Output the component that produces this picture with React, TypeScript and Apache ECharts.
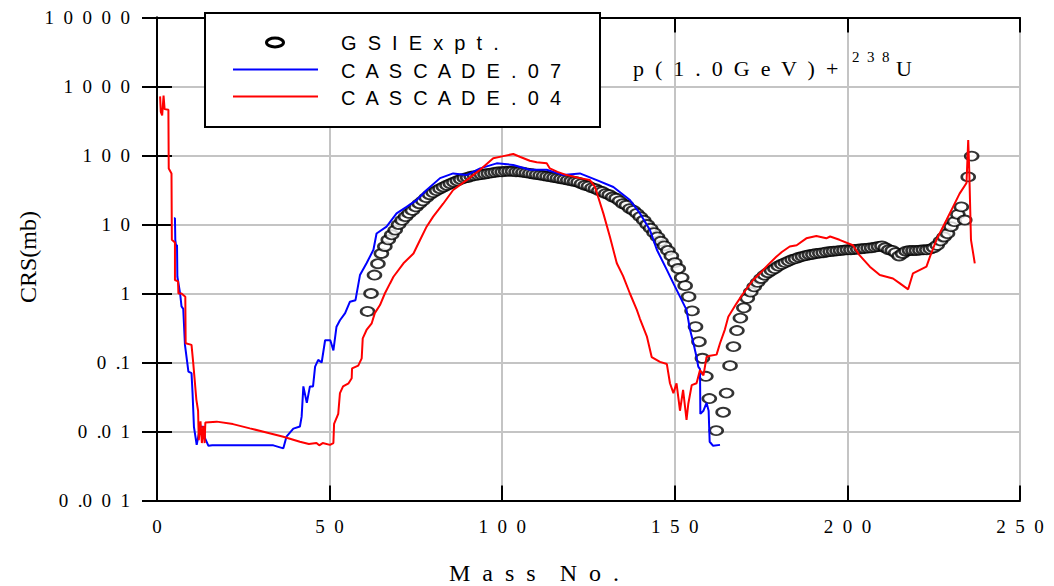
import React, { useEffect, useRef } from "react";
import * as echarts from "echarts";

// ---- tick labels ----
const xTicks = [0, 50, 100, 150, 200, 250];
const xTickLabels = ["0", "5  0", "1  0  0", "1  5  0", "2  0  0", "2  5  0"];
const yTickExps = [-3, -2, -1, 0, 1, 2, 3, 4];
const yTickLabels = ["0  .0  0  1", "0  .0  1", "0  .1", "1", "1  0", "1  0  0", "1  0  0  0", "1  0  0  0  0"];

// ---- series names ----
const seriesNames = ["G  S  I  E  x  p  t  .", "C  A  S  C  A  D  E  .  0  7", "C  A  S  C  A  D  E  .  0  4"];

// ---- GSI experimental data ----
const gsiMass = [
  61, 62, 63, 64, 65, 66, 67, 68, 69, 70, 71, 72, 73, 74, 75, 76, 77, 78, 79, 80,
  81, 82, 83, 84, 85, 86, 87, 88, 89, 90, 91, 92, 93, 94, 95, 96, 97, 98, 99, 100,
  101, 102, 103, 104, 105, 106, 107, 108, 109, 110, 111, 112, 113, 114, 115, 116, 117, 118, 119, 120,
  121, 122, 123, 124, 125, 126, 127, 128, 129, 130, 131, 132, 133, 134, 135, 136, 137, 138, 139, 140,
  141, 142, 143, 144, 145, 146, 147, 148, 149, 150, 151, 152, 153, 154, 155, 156, 157, 158, 159, 160,
  162, 164, 165, 166, 167, 168, 169, 170, 171, 172, 173, 174, 175, 176, 177, 178, 179, 180,
  181, 182, 183, 184, 185, 186, 187, 188, 189, 190, 191, 192, 193, 194, 195, 196, 197, 198, 199, 200,
  201, 202, 203, 204, 205, 206, 207, 208, 209, 210, 211, 212, 213, 214, 215, 216, 217, 218, 219, 220,
  221, 222, 223, 224, 225, 226, 227, 228, 229, 230, 231, 232, 233, 234, 235, 236,
];
const gsiCrs = [
  0.55, 1.0, 1.85, 2.7, 3.8, 4.8, 6.0, 7.1, 8.3, 10, 11.5, 13, 14.5, 16, 18, 20, 22, 24.5, 27, 29,
  31, 33, 35, 37, 39, 41, 43, 45, 47, 48, 50, 51, 52, 53, 54, 55, 56, 57, 58, 58,
  59, 59, 59, 58, 58, 57, 56, 55, 54, 53, 52, 51, 50, 49, 48, 47, 46, 45, 44, 43,
  42, 41, 39, 37, 36, 34, 33, 31, 30, 28, 27, 25, 24, 22, 20, 19, 17, 16, 14.5, 13,
  11.5, 10, 8.8, 7.6, 6.6, 5.7, 4.9, 4.2, 3.5, 2.8, 2.3, 1.7, 1.3, 0.9, 0.56, 0.33, 0.2, 0.115, 0.063, 0.03,
  0.0103, 0.019, 0.036, 0.09, 0.17, 0.29, 0.44, 0.62, 0.85, 1.05, 1.25, 1.45, 1.65, 1.85, 2.0, 2.15, 2.3, 2.5,
  2.65, 2.8, 2.95, 3.1, 3.2, 3.35, 3.45, 3.55, 3.65, 3.7, 3.8, 3.85, 3.9, 4.0, 4.05, 4.1, 4.15, 4.2, 4.25, 4.3,
  4.3, 4.35, 4.4, 4.45, 4.5, 4.55, 4.6, 4.7, 4.8, 4.9, 4.6, 4.3, 4.2, 3.9, 3.5, 3.8, 4.1, 4.2, 4.2, 4.2,
  4.25, 4.3, 4.3, 4.4, 4.6, 5.0, 5.8, 6.6, 7.4, 9.3, 11, 14, 18, 11.6, 49, 98,
];

// ---- CASCADE.07 (mass, crs) ----
const cascade07: [number, number][] = [
  [4.9, 12.3], [5.2, 12.3], [5.3, 6], [5.5, 5.0], [5.8, 5.0], [5.9, 1.75], [6.7, 1.0], [7.1, 0.65],
  [7.6, 0.6], [8.1, 0.18], [9.1, 0.074], [10, 0.07], [10.3, 0.036], [10.7, 0.0117], [11.5, 0.0064],
  [12.5, 0.0117], [13.5, 0.0117], [13.9, 0.008], [14.9, 0.0062], [16, 0.0063], [33.7, 0.0063],
  [36.6, 0.0057], [37.5, 0.0084], [39.5, 0.011], [41.4, 0.0118], [41.9, 0.0164], [42.4, 0.045],
  [43.4, 0.026], [44.3, 0.045], [45.2, 0.045], [45.8, 0.087], [46.7, 0.109], [47.7, 0.1], [48.7, 0.21],
  [50.2, 0.21], [51.1, 0.15], [52, 0.33], [53, 0.41], [54.5, 0.52], [55.9, 0.76], [57.5, 0.8],
  [58.8, 1.85], [60.7, 2.74], [62.7, 4.3], [63.6, 7.4], [66.5, 9.3], [69.4, 14.5], [72.3, 18],
  [75.2, 22.6], [78.1, 31.6], [82, 47], [85.8, 55], [89.7, 52], [93.6, 65], [98.4, 77], [103.2, 73],
  [108, 62], [112.9, 62], [117.7, 52], [122.5, 55], [127.4, 44], [132.2, 35], [137, 22.6], [139.9, 14.5],
  [142.8, 8.3], [144.8, 4.3], [147.7, 2.2], [149.6, 1.4], [151.5, 0.9], [153.4, 0.58], [154.4, 0.3],
  [155.4, 0.19], [156.3, 0.12], [156.8, 0.087], [157.3, 0.08], [157.4, 0.018], [158.3, 0.02],
  [159.2, 0.026], [159.8, 0.02], [160.1, 0.0071], [161.1, 0.0062], [163.1, 0.0064],
];

// ---- CASCADE.04 (mass, crs) ----
const cascade04: [number, number][] = [
  [0.9, 720], [1.1, 430], [1.5, 380], [1.9, 740], [2.2, 470], [3.3, 460], [3.4, 65], [4.2, 55],
  [4.3, 6], [5.2, 5.5], [5.2, 1.57], [6.1, 1.5], [6.2, 1.0], [7.1, 1.0], [8.2, 0.9], [8.3, 0.19],
  [10, 0.18], [10.5, 0.098], [11.4, 0.029], [11.9, 0.02], [12.1, 0.0075], [12.6, 0.014], [13.0, 0.0068],
  [13.4, 0.012], [13.8, 0.0068], [14.0, 0.0135], [17.3, 0.0139], [22, 0.0128], [26.9, 0.0111],
  [32, 0.0096], [36.6, 0.0084], [41.4, 0.0071], [44, 0.0066], [46.2, 0.0068], [47, 0.0063],
  [48, 0.0068], [50.1, 0.0064], [51.1, 0.0068], [51.3, 0.0129], [52.5, 0.018], [53, 0.036],
  [53.9, 0.045], [55.5, 0.05], [56.4, 0.059], [56.5, 0.082], [58.3, 0.09], [59.3, 0.115], [59.6, 0.224],
  [60.7, 0.296], [62.2, 0.37], [63.1, 0.52], [64.6, 0.68], [66, 1.0], [67.5, 1.4], [68.5, 1.75],
  [71.4, 2.74], [74.3, 3.8], [76.2, 5.96], [78.1, 9.3], [80, 13], [82.9, 20], [85.8, 31.6], [89.7, 44],
  [93.6, 62], [97.4, 91], [100.3, 98], [103.2, 105], [105.1, 96], [108, 84], [110, 80], [112.9, 77],
  [113.8, 65], [116, 58], [118.7, 52], [122.5, 47], [125.4, 44], [126.9, 35], [127.8, 25], [129.3, 14.5],
  [131.2, 6.65], [133.2, 2.74], [135, 1.8], [137, 1.0], [139, 0.58], [139.9, 0.43], [141.9, 0.24],
  [143.3, 0.12], [145.7, 0.102], [147.7, 0.095], [148.6, 0.05], [149.6, 0.036], [150.5, 0.05],
  [151.5, 0.02], [152.4, 0.04], [153.4, 0.0147], [153.9, 0.025], [154.9, 0.047], [156.3, 0.05],
  [157.3, 0.078], [158.3, 0.065], [159.2, 0.12], [160.2, 0.125], [162.1, 0.13], [163.1, 0.19],
  [164.5, 0.3], [165.5, 0.46], [167.9, 0.72], [169.8, 1.0], [172.7, 1.57], [174.7, 1.96], [177, 2.6],
  [179.4, 3.4], [181, 4], [183.3, 4.8], [185.3, 5.0], [188.1, 6.3], [191, 6.8], [193.9, 6.3], [195, 6.7],
  [197.7, 6.0], [201.6, 5.0], [203.5, 3.6], [206.5, 2.45], [209.4, 1.85], [213.2, 1.65], [215.2, 1.4],
  [217.6, 1.15], [219, 1.96], [222.9, 2.45], [223.9, 3.4], [225.8, 6.0], [228.7, 11.6], [230.6, 18],
  [232.5, 28], [234.5, 40], [235, 168], [235.3, 60], [235.8, 6.0], [236.9, 2.74],
];

const SERIF = "'Liberation Serif', 'Times New Roman', serif";
const SANS = "'Liberation Sans', Arial, sans-serif";

export default function App() {
  const ref = useRef<HTMLDivElement>(null);

  useEffect(() => {
    document.body.style.margin = "0";
    const chart = echarts.init(ref.current!, null, { renderer: "svg" });

    const tickStyle = { show: true, inside: true, length: 15, lineStyle: { color: "#000", width: 2 } };
    const axisLine = { show: true, lineStyle: { color: "#000", width: 2 } };

    const yLabel = (v: number) => {
      const e = Math.round(Math.log10(v));
      const i = yTickExps.indexOf(e);
      return i >= 0 ? yTickLabels[i] : "";
    };
    const xLabel = (v: number) => {
      const i = xTicks.indexOf(Math.round(v));
      return i >= 0 ? xTickLabels[i] : "";
    };

    const option: any = {
      animation: false,
      backgroundColor: "#fff",
      grid: { left: 157, top: 17.5, right: 34, bottom: 85.5, containLabel: false },
      xAxis: [
        {
          type: "value",
          min: 0,
          max: 250,
          interval: 50,
          position: "bottom",
          axisLine,
          axisTick: tickStyle,
          axisLabel: {
            formatter: xLabel,
            margin: 16,
            color: "#000",
            fontFamily: SERIF,
            fontSize: 19,
          },
          splitLine: { show: true, lineStyle: { color: "#c4c4c4", width: 2 } },
        },
        {
          type: "value",
          min: 0,
          max: 250,
          interval: 50,
          position: "top",
          axisLine,
          axisTick: tickStyle,
          axisLabel: { show: false },
          splitLine: { show: false },
        },
      ],
      yAxis: [
        {
          type: "log",
          logBase: 10,
          min: 0.001,
          max: 10000,
          interval: 1,
          splitNumber: 7,
          position: "left",
          axisLine,
          axisTick: tickStyle,
          minorTick: { show: false },
          axisLabel: {
            formatter: yLabel,
            margin: 27,
            color: "#000",
            fontFamily: SERIF,
            fontSize: 19,
          },
          splitLine: { show: true, lineStyle: { color: "#c4c4c4", width: 2 } },
        },
        {
          type: "log",
          logBase: 10,
          min: 0.001,
          max: 10000,
          interval: 1,
          splitNumber: 7,
          position: "right",
          axisLine,
          axisTick: tickStyle,
          axisLabel: { show: false },
          splitLine: { show: false },
        },
      ],
      series: [
        {
          name: seriesNames[0],
          type: "scatter",
          xAxisIndex: 0,
          yAxisIndex: 0,
          symbol: "circle",
          symbolSize: [13, 9],
          itemStyle: { color: "#fff", borderColor: "#000", borderWidth: 2.2 },
          data: gsiMass.map((m, i) => [m, gsiCrs[i]]),
          z: 2,
        },
        {
          name: seriesNames[1],
          type: "line",
          xAxisIndex: 0,
          yAxisIndex: 0,
          showSymbol: false,
          symbol: "none",
          lineStyle: { color: "#0000ff", width: 2 },
          data: cascade07,
          z: 3,
        },
        {
          name: seriesNames[2],
          type: "line",
          xAxisIndex: 0,
          yAxisIndex: 0,
          showSymbol: false,
          symbol: "none",
          lineStyle: { color: "#ff0000", width: 2 },
          data: cascade04,
          z: 4,
        },
      ],
      graphic: [
        {
          type: "rect",
          z: 100,
          shape: { x: 205, y: 13, width: 395, height: 114 },
          style: { fill: "#fff", stroke: "#000", lineWidth: 2 },
        },
        {
          type: "ellipse",
          z: 101,
          shape: { cx: 275, cy: 42.5, rx: 8.5, ry: 4.5 },
          style: { fill: "#fff", stroke: "#000", lineWidth: 3 },
        },
        {
          type: "line",
          z: 101,
          shape: { x1: 233, y1: 69.5, x2: 318, y2: 69.5 },
          style: { stroke: "#0000ff", lineWidth: 2 },
        },
        {
          type: "line",
          z: 101,
          shape: { x1: 233, y1: 96.5, x2: 318, y2: 96.5 },
          style: { stroke: "#ff0000", lineWidth: 2 },
        },
        {
          type: "text",
          z: 101,
          x: 341,
          y: 43,
          style: { text: seriesNames[0], font: `20px ${SANS}`, fill: "#000", verticalAlign: "middle", align: "left" },
        },
        {
          type: "text",
          z: 101,
          x: 341,
          y: 70.5,
          style: { text: seriesNames[1], font: `20px ${SANS}`, fill: "#000", verticalAlign: "middle", align: "left" },
        },
        {
          type: "text",
          z: 101,
          x: 341,
          y: 97.5,
          style: { text: seriesNames[2], font: `20px ${SANS}`, fill: "#000", verticalAlign: "middle", align: "left" },
        },
        {
          type: "text",
          z: 101,
          x: 633,
          y: 68,
          style: { text: "p  (  1  .  0  G  e  V  )  +", font: `22px ${SERIF}`, fill: "#000", verticalAlign: "middle", align: "left" },
        },
        {
          type: "text",
          z: 101,
          x: 852,
          y: 57,
          style: { text: "2  3  8", font: `15px ${SERIF}`, fill: "#000", verticalAlign: "middle", align: "left" },
        },
        {
          type: "text",
          z: 101,
          x: 896,
          y: 68,
          style: { text: "U", font: `22px ${SERIF}`, fill: "#000", verticalAlign: "middle", align: "left" },
        },
        {
          type: "text",
          z: 101,
          x: 28,
          y: 257,
          rotation: Math.PI / 2,
          style: { text: "CRS(mb)", font: `24px ${SERIF}`, fill: "#000", verticalAlign: "middle", align: "center" },
        },
        {
          type: "text",
          z: 101,
          x: 534,
          y: 573,
          style: { text: "M  a  s  s    N  o  .", font: `24px ${SERIF}`, fill: "#000", verticalAlign: "middle", align: "center" },
        },
      ],
    };

    chart.setOption(option);
    return () => chart.dispose();
  }, []);

  return <div ref={ref} style={{ width: 1054, height: 586 }} />;
}
